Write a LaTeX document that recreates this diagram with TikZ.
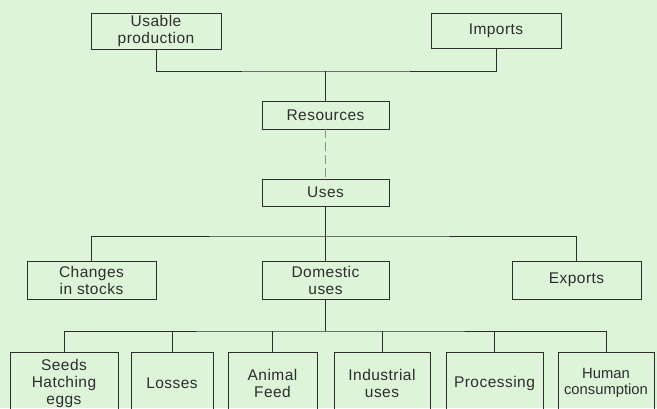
\documentclass[tikz,border=0pt]{standalone}
\usepackage{fontspec}
\setmainfont{Liberation Sans}[LetterSpace=3]
\definecolor{bg}{RGB}{221,244,217}
\definecolor{ink}{RGB}{45,45,45}
\begin{document}
\begin{tikzpicture}[x=1pt,y=-1pt,
  box/.style={draw=ink, line width=0.8pt, align=center, inner sep=1pt, text=ink,
     font=\fontsize{15.5}{17}\selectfont},
  conn/.style={draw=ink, line width=0.8pt}]
\fill[bg] (0,0) rectangle (657,408);
\useasboundingbox (0,0) rectangle (657,408);
\clip (0,0) rectangle (657,408);
% top level
\node[box, minimum width=130, minimum height=36] (usable) at (156,31) {Usable\\production};
\node[box, minimum width=130, minimum height=35] (imports) at (496,30.5) {Imports};
\node[box, minimum width=127, minimum height=28] (res) at (325.5,115) {Resources};
\node[box, minimum width=127, minimum height=27] (uses) at (325.5,192.5) {Uses};
\node[box, minimum width=129, minimum height=38] (chg) at (91.5,280) {Changes\\in stocks};
\node[box, minimum width=127, minimum height=38] (dom) at (325.5,280) {Domestic\\uses};
\node[box, minimum width=129, minimum height=38] (exp) at (576.5,280) {Exports};
% bottom level
\node[box, minimum width=108, minimum height=62] (seeds) at (64,383) {Seeds\\Hatching\\eggs};
\node[box, minimum width=82, minimum height=62] (loss) at (172,383) {Losses};
\node[box, minimum width=89, minimum height=62] (feed) at (272.5,383) {Animal\\Feed};
\node[box, minimum width=96, minimum height=62] (ind) at (382,383) {Industrial\\uses};
\node[box, minimum width=97, minimum height=62] (proc) at (494.5,383) {Processing};
\node[box, minimum width=96, minimum height=62, inner sep=0pt, font=\fontsize{14.8}{16.5}\selectfont\addfontfeatures{LetterSpace=0}] (hum) at (606,383) {Human\\consumption};
% junctions
\coordinate (jtop) at (325.5,71);
\coordinate (jmid) at (325.5,236);
\coordinate (jbot) at (325.5,331);
% connectors
\draw[conn] (usable.south) |- (jtop) -| (imports.south);
\draw[conn] (jtop) -- (res.north);
\draw[conn, draw=ink!55, line width=0.6pt, dash pattern=on 9pt off 4pt] (res.south) -- (uses.north);
\draw[conn] (uses.south) -- (dom.north);
\draw[conn] (chg.north) |- (jmid) -| (exp.north);
\draw[conn] (dom.south) -- (jbot);
\draw[conn] (seeds.north) |- (jbot) -| (hum.north);
\draw[conn] (loss.north) -- (loss.north |- jbot);
\draw[conn] (feed.north) -- (feed.north |- jbot);
\draw[conn] (ind.north) -- (ind.north |- jbot);
\draw[conn] (proc.north) -- (proc.north |- jbot);
\end{tikzpicture}
\end{document}
